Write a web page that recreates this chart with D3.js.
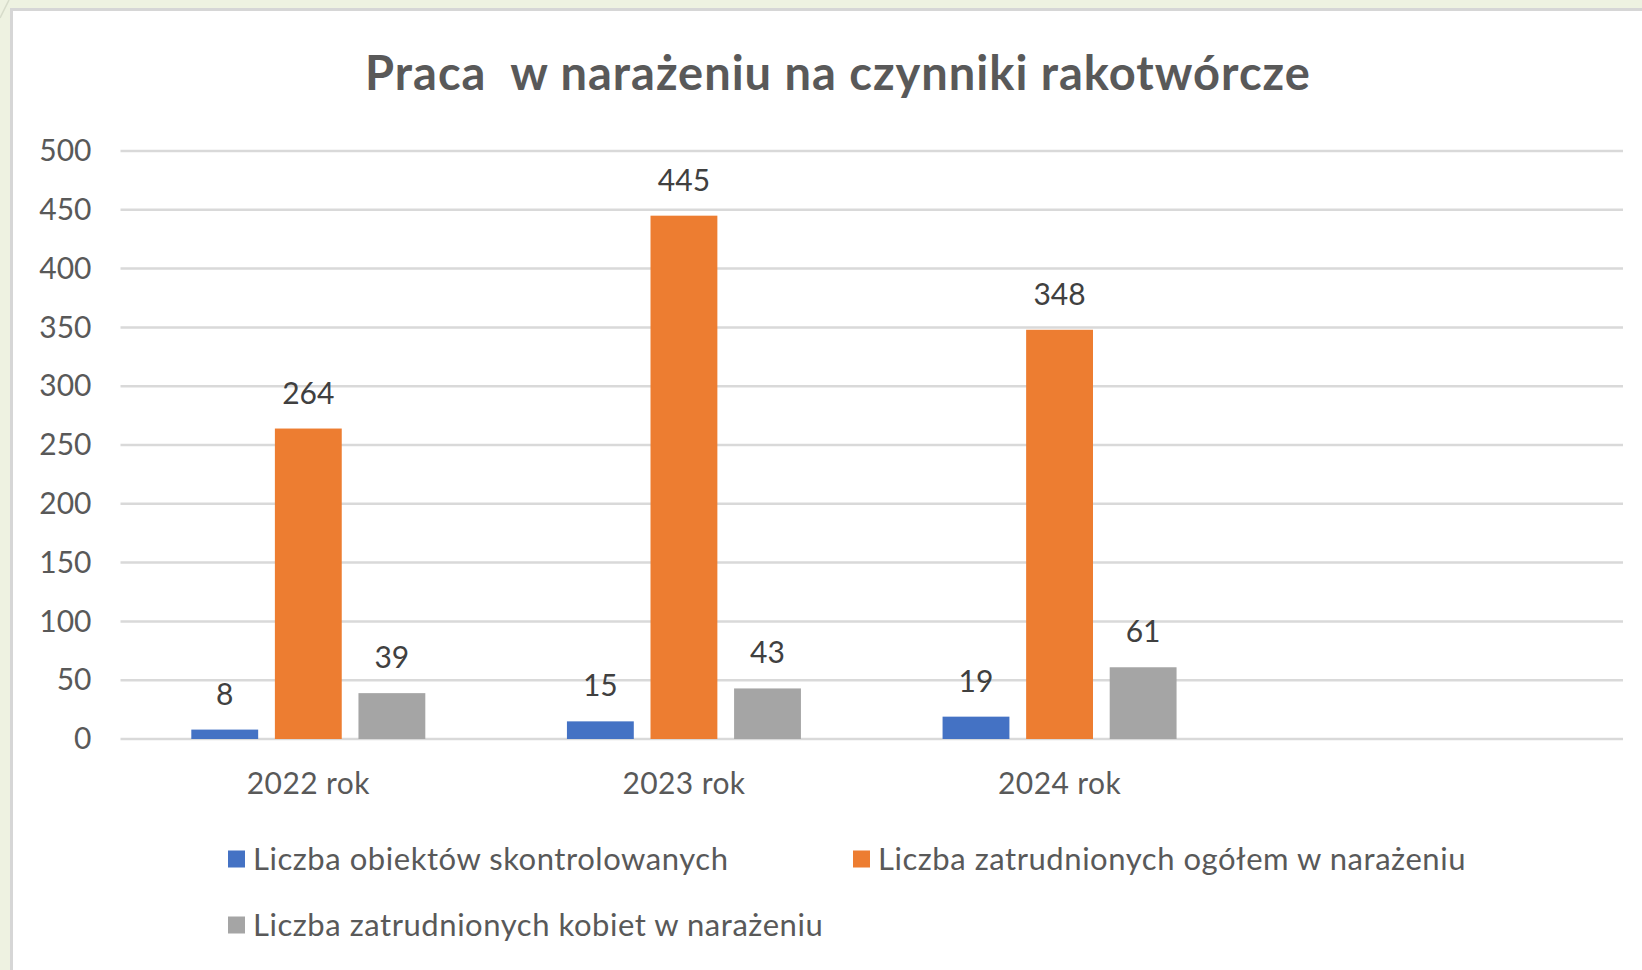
<!DOCTYPE html>
<html>
<head>
<meta charset="utf-8">
<script src="https://cdn.jsdelivr.net/npm/d3@7"></script>
<style>
  body { margin: 0; background: #eef2e1; }
  svg { display: block; }
  text { font-family: Lato, "Open Sans", sans-serif; }
</style>
</head>
<body>
<svg id="chart" width="1642" height="970"></svg>
<script>
// data
const categories = ['2022 rok', '2023 rok', '2024 rok', ''];
const seriesNames = [
  'Liczba obiektów skontrolowanych',
  'Liczba zatrudnionych ogółem w narażeniu',
  'Liczba zatrudnionych kobiet w narażeniu',
];
const obiekty = [8, 15, 19];
const ogolem = [264, 445, 348];
const kobiety = [39, 43, 61];
const seriesColors = ['#4472c4', '#ed7d31', '#a5a5a5'];
const title = 'Praca  w narażeniu na czynniki rakotwórcze';

const seriesValues = [obiekty, ogolem, kobiety];
const rows = categories.slice(0, 3).map((cat, i) => ({
  cat,
  values: seriesNames.map((name, s) => ({ name, value: seriesValues[s][i], color: seriesColors[s] })),
}));

const svg = d3.select('#chart');
const W = 1642;
const H = 970;

// panel
svg.append('rect').attr('width', W).attr('height', H).attr('fill', '#eef2e1');
svg.append('line')
  .attr('x1', 0).attr('y1', 18).attr('x2', 9).attr('y2', 0)
  .attr('stroke', '#d7dccb').attr('stroke-width', 1.5);
svg.append('rect')
  .attr('x', 11.5).attr('y', 9.5).attr('width', W).attr('height', H)
  .attr('fill', '#fff').attr('stroke', '#d6d6d6').attr('stroke-width', 3);

const margin = { top: 151, left: 120.5, right: 19, bottom: 231 };
const plotW = W - margin.left - margin.right;
const plotH = H - margin.top - margin.bottom;

const chart = svg.append('g').attr('transform', `translate(${margin.left},${margin.top})`);

const x0 = d3.scaleBand().domain(categories).range([0, plotW]);
const groupW = 234;
const x1 = d3.scaleBand().domain(seriesNames).range([0, groupW]).paddingInner(0.2);
const y = d3.scaleLinear().domain([0, 500]).range([plotH, 0]);

// gridlines
chart.append('g')
  .selectAll('line')
  .data(y.ticks(10))
  .join('line')
  .attr('x1', 0).attr('x2', plotW)
  .attr('y1', (d) => y(d)).attr('y2', (d) => y(d))
  .attr('stroke', '#d9d9d9').attr('stroke-width', 2.5);

// y axis labels
const yAxisG = chart.append('g')
  .call(d3.axisLeft(y).ticks(10).tickSize(0).tickPadding(29));
yAxisG.select('.domain').remove();
yAxisG.selectAll('text')
  .attr('fill', '#595959')
  .style('font-size', '30px')
  .style('font-family', 'Lato, sans-serif');

// x axis labels
const xAxisG = chart.append('g')
  .attr('transform', `translate(0,${plotH})`)
  .call(d3.axisBottom(x0).tickSize(0).tickPadding(34));
xAxisG.select('.domain').remove();
xAxisG.selectAll('text')
  .attr('fill', '#595959')
  .style('font-size', '30px')
  .style('letter-spacing', '0.4px')
  .style('font-family', 'Lato, sans-serif');

// bars
const groups = chart.selectAll('.group')
  .data(rows)
  .join('g')
  .attr('class', 'group')
  .attr('transform', (d) => `translate(${x0(d.cat) + (x0.bandwidth() - groupW) / 2},0)`);

groups.selectAll('rect')
  .data((d) => d.values)
  .join('rect')
  .attr('x', (d) => x1(d.name))
  .attr('width', x1.bandwidth())
  .attr('y', (d) => y(d.value))
  .attr('height', (d) => plotH - y(d.value))
  .attr('fill', (d) => d.color);

groups.selectAll('text')
  .data((d) => d.values)
  .join('text')
  .attr('x', (d) => x1(d.name) + x1.bandwidth() / 2)
  .attr('y', (d) => y(d.value) - 25)
  .attr('text-anchor', 'middle')
  .attr('fill', '#404040')
  .style('font-size', '30px')
  .text((d) => d.value);

// title
svg.append('text')
  .attr('x', 838)
  .attr('y', 90)
  .attr('text-anchor', 'middle')
  .attr('fill', '#595959')
  .style('font-size', '47px')
  .style('font-weight', 'bold')
  .style('letter-spacing', '1px')
  .style('white-space', 'pre')
  .text(title);

// legend
const legendPos = [
  { x: 228, y: 859 },
  { x: 853, y: 859 },
  { x: 228, y: 925 },
];
const legend = svg.append('g')
  .selectAll('g')
  .data(seriesNames)
  .join('g')
  .attr('transform', (d, i) => `translate(${legendPos[i].x},${legendPos[i].y})`);

legend.append('rect')
  .attr('x', 0).attr('y', -8.5)
  .attr('width', 17).attr('height', 17)
  .attr('fill', (d, i) => seriesColors[i]);

legend.append('text')
  .attr('x', 25)
  .attr('dy', '0.35em')
  .attr('fill', '#595959')
  .style('font-size', '31px')
  .style('letter-spacing', '0.55px')
  .text((d) => d);
</script>
</body>
</html>
